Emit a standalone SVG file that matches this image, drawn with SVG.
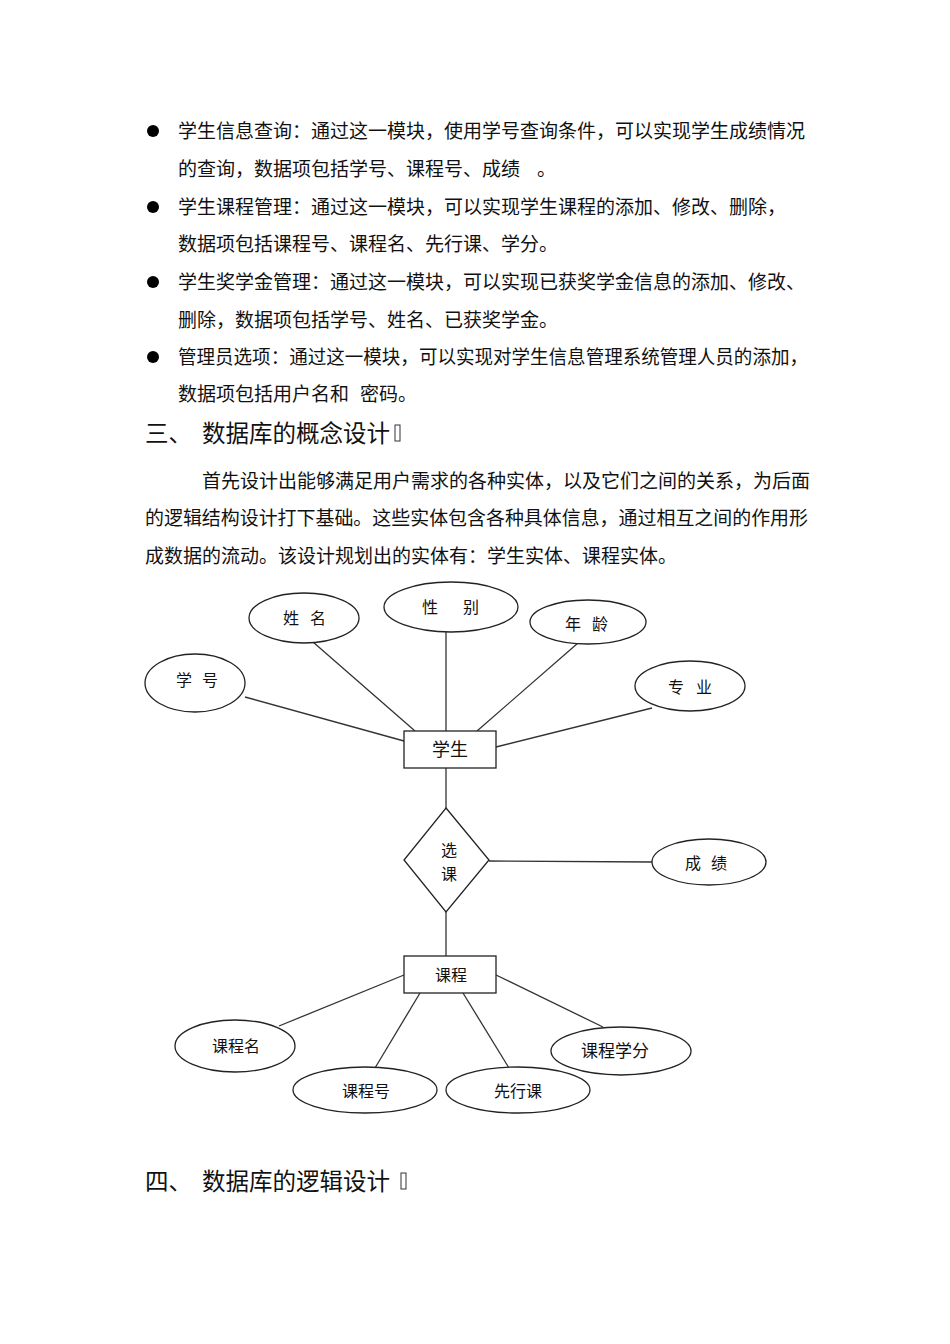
<svg xmlns="http://www.w3.org/2000/svg" width="950" height="1344" viewBox="0 0 950 1344">
<style>
.t{font-family:"Noto Sans CJK SC","Liberation Serif",sans-serif;font-size:19px;fill:#111;}
.h{font-family:"Noto Sans CJK SC","Liberation Serif",sans-serif;font-size:23.5px;fill:#111;}
.lb{font-family:"Noto Sans CJK SC","Liberation Sans",sans-serif;font-size:16px;fill:#111;text-anchor:middle;}
.lb2{font-family:"Noto Sans CJK SC","Liberation Sans",sans-serif;font-size:18px;fill:#111;text-anchor:middle;}
.sh{fill:#fff;stroke:#222;stroke-width:1.3;}
.ln{stroke:#333;stroke-width:1.3;fill:none;}
.tofu{fill:none;stroke:#333;stroke-width:1;}
</style>
<rect width="950" height="1344" fill="#fff"/>
<g id="text">
<circle cx="153" cy="131" r="6" fill="#000"/>
<text class="t" x="178" y="138">学生信息查询：通过这一模块，使用学号查询条件，可以实现学生成绩情况</text>
<text class="t" x="178" y="176">的查询，数据项包括学号、课程号、成绩</text>
<text class="t" x="537" y="176">。</text>
<circle cx="153" cy="207" r="6" fill="#000"/>
<text class="t" x="178" y="214">学生课程管理：通过这一模块，可以实现学生课程的添加、修改、删除，</text>
<text class="t" x="178" y="251">数据项包括课程号、课程名、先行课、学分。</text>
<circle cx="153" cy="282" r="6" fill="#000"/>
<text class="t" x="178" y="289">学生奖学金管理：通过这一模块，可以实现已获奖学金信息的添加、修改、</text>
<text class="t" x="178" y="327">删除，数据项包括学号、姓名、已获奖学金。</text>
<circle cx="153" cy="357" r="6" fill="#000"/>
<text class="t" x="178" y="364" textLength="630" lengthAdjust="spacingAndGlyphs">管理员选项：通过这一模块，可以实现对学生信息管理系统管理人员的添加，</text>
<text class="t" x="178" y="401">数据项包括用户名和</text>
<text class="t" x="360" y="401">密码。</text>
<text class="h" x="145" y="442">三、</text>
<text class="h" x="202" y="442">数据库的概念设计</text>
<rect class="tofu" x="395" y="425" width="5" height="16"/>
<text class="t" x="202" y="488">首先设计出能够满足用户需求的各种实体，以及它们之间的关系，为后面</text>
<text class="t" x="145" y="525" textLength="663" lengthAdjust="spacingAndGlyphs">的逻辑结构设计打下基础。这些实体包含各种具体信息，通过相互之间的作用形</text>
<text class="t" x="145" y="563">成数据的流动。该设计规划出的实体有：学生实体、课程实体。</text>
<text class="h" x="145" y="1190">四、</text>
<text class="h" x="202" y="1190">数据库的逻辑设计</text>
<rect class="tofu" x="401" y="1173" width="5" height="16"/>
</g>
<g id="connectors">
<line class="ln" x1="245" y1="697" x2="404" y2="741"/>
<line class="ln" x1="313" y1="642" x2="415" y2="731"/>
<line class="ln" x1="446" y1="632" x2="446" y2="731"/>
<line class="ln" x1="578" y1="643" x2="477" y2="731"/>
<line class="ln" x1="652" y1="708" x2="496" y2="747"/>
<line class="ln" x1="446" y1="768" x2="446" y2="808"/>
<line class="ln" x1="489" y1="861" x2="652" y2="862"/>
<line class="ln" x1="446" y1="912" x2="446" y2="956"/>
<line class="ln" x1="404" y1="975" x2="279" y2="1026"/>
<line class="ln" x1="420" y1="993" x2="375" y2="1068"/>
<line class="ln" x1="463" y1="993" x2="509" y2="1068"/>
<line class="ln" x1="496" y1="975" x2="603" y2="1027"/>
</g>
<g id="n-xuehao"><ellipse class="sh" cx="195" cy="683" rx="50" ry="29"/><text class="lb" x="184" y="686">学</text><text class="lb" x="210" y="686">号</text></g>
<g id="n-xingming"><ellipse class="sh" cx="304" cy="618" rx="55" ry="25"/><text class="lb" x="291" y="624">姓</text><text class="lb" x="318" y="624">名</text></g>
<g id="n-xingbie"><ellipse class="sh" cx="451" cy="607" rx="67" ry="25"/><text class="lb" x="430" y="613">性</text><text class="lb" x="471" y="613">别</text></g>
<g id="n-nianling"><ellipse class="sh" cx="588" cy="622" rx="58" ry="22"/><text class="lb" x="573" y="630">年</text><text class="lb" x="600" y="630">龄</text></g>
<g id="n-zhuanye"><ellipse class="sh" cx="690" cy="686" rx="55" ry="25"/><text class="lb" x="676" y="693">专</text><text class="lb" x="704" y="693">业</text></g>
<g id="n-xuesheng"><rect class="sh" x="404" y="731" width="92" height="37"/><text class="lb2" x="450" y="756">学生</text></g>
<g id="n-xuanke"><polygon class="sh" points="446,808 489,860 446,912 404,860"/><text class="lb" x="449" y="856">选</text><text class="lb" x="449" y="880">课</text></g>
<g id="n-chengji"><ellipse class="sh" cx="709" cy="862" rx="57" ry="23"/><text class="lb" x="693" y="869">成</text><text class="lb" x="719" y="869">绩</text></g>
<g id="n-kecheng"><rect class="sh" x="404" y="956" width="92" height="37"/><text class="lb" x="451" y="981">课程</text></g>
<g id="n-kechengming"><ellipse class="sh" cx="235" cy="1046" rx="60" ry="26"/><text class="lb" x="236" y="1052">课程名</text></g>
<g id="n-kechenghao"><ellipse class="sh" cx="365" cy="1090" rx="72" ry="23"/><text class="lb" x="366" y="1097">课程号</text></g>
<g id="n-xianxingke"><ellipse class="sh" cx="518" cy="1090" rx="72" ry="23"/><text class="lb" x="518" y="1097">先行课</text></g>
<g id="n-xuefen"><ellipse class="sh" cx="621" cy="1051" rx="70" ry="24"/><text class="lb" x="615" y="1057" style="font-size:17px">课程学分</text></g>
</svg>
